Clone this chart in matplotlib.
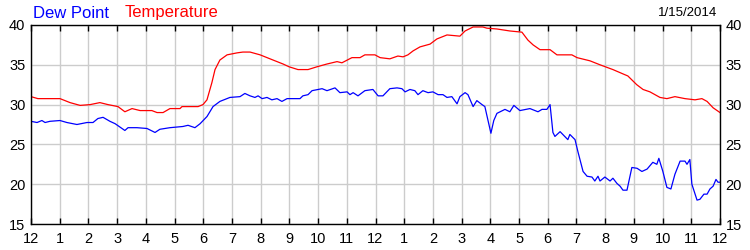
import numpy as np
import matplotlib
matplotlib.use("Agg")
from matplotlib import pyplot as plt

plt.rcParams['font.family'] = ['Liberation Sans', 'DejaVu Sans']

# hours since midnight, temperature
temp_hours = [0, 0.24, 0.66, 1.01, 1.36, 1.71, 2.06, 2.40, 2.68, 3.03, 3.27, 3.52, 3.80, 4.21, 4.39,
              4.60, 4.84, 5.19, 5.26, 5.82, 5.99, 6.13, 6.30, 6.41, 6.58, 6.83, 7.18, 7.38, 7.63,
              7.98, 8.43, 8.78, 8.99, 9.30, 9.65, 9.96, 10.31, 10.66, 10.83, 11.18, 11.46, 11.63,
              11.98, 12.16, 12.50, 12.78, 12.96, 13.13, 13.31, 13.55, 13.90, 14.14, 14.49, 14.94,
              15.12, 15.40, 15.74, 15.88, 16.23, 16.68, 17.10, 17.31, 17.49, 17.73, 18.08, 18.32,
              18.84, 19.02, 19.47, 19.82, 20.27, 20.69, 20.79, 21.10, 21.32, 21.56, 21.91, 22.15,
              22.43, 22.78, 23.13, 23.37, 23.55, 23.76, 24.0]
temp_vals = [31.0, 30.75, 30.75, 30.75, 30.25, 29.9, 30.0, 30.25, 30.0, 29.75, 29.1, 29.5, 29.25, 29.25, 29.0,
             29.0, 29.5, 29.5, 29.75, 29.75, 30.0, 30.6, 32.75, 34.4, 35.6, 36.25, 36.5, 36.6, 36.6,
             36.25, 35.6, 35.1, 34.75, 34.4, 34.4, 34.75, 35.1, 35.4, 35.25, 35.9, 35.9, 36.25,
             36.25, 35.9, 35.75, 36.1, 36.0, 36.25, 36.75, 37.25, 37.6, 38.25, 38.75, 38.6,
             39.25, 39.75, 39.75, 39.6, 39.5, 39.25, 39.1, 38.1, 37.5, 36.9, 36.9, 36.25,
             36.25, 35.9, 35.5, 35.0, 34.4, 33.75, 33.6, 32.5, 31.9, 31.6, 30.9, 30.75,
             31.0, 30.75, 30.6, 30.75, 30.4, 29.6, 29.0]

# hours since midnight, dew point
dew_hours = [0, 0.21, 0.38, 0.49, 0.66, 1.01, 1.25, 1.60, 1.95, 2.16, 2.33, 2.51, 2.75, 2.93, 3.27,
             3.38, 3.69, 4.04, 4.32, 4.49, 4.84, 5.29, 5.47, 5.71, 5.89, 6.13, 6.34, 6.58, 6.93,
             7.28, 7.45, 7.63, 7.80, 7.91, 8.05, 8.22, 8.39, 8.57, 8.74, 8.92, 9.37, 9.47, 9.65,
             9.79, 10.14, 10.31, 10.59, 10.76, 11.01, 11.11, 11.22, 11.39, 11.63, 11.91, 12.09,
             12.26, 12.50, 12.75, 12.92, 13.03, 13.20, 13.37, 13.48, 13.65, 13.83, 14.00, 14.18,
             14.35, 14.49, 14.66, 14.84, 14.94, 15.12, 15.22, 15.40, 15.53, 15.71, 15.81, 15.95,
             16.02, 16.12, 16.23, 16.34, 16.51, 16.68, 16.82, 17.03, 17.38, 17.66, 17.80, 17.97,
             18.08, 18.18, 18.25, 18.43, 18.70, 18.77, 18.95, 19.05, 19.23, 19.37, 19.54, 19.64,
             19.75, 19.82, 19.99, 20.17, 20.27, 20.41, 20.52, 20.62, 20.76, 20.79, 20.93, 21.11,
             21.28, 21.46, 21.66, 21.80, 21.87, 22.01, 22.15, 22.29, 22.43, 22.61, 22.78, 22.85,
             22.95, 23.02, 23.20, 23.30, 23.44, 23.55, 23.65, 23.76, 23.86, 23.93, 24.0]
dew_vals = [27.9, 27.75, 28.0, 27.75, 27.9, 28.0, 27.75, 27.5, 27.75, 27.75, 28.25, 28.4, 27.9, 27.6, 26.75,
            27.1, 27.1, 27.0, 26.5, 26.9, 27.1, 27.25, 27.4, 27.1, 27.6, 28.5, 29.75, 30.4, 30.9,
            31.0, 31.4, 31.1, 30.9, 31.1, 30.75, 30.9, 30.6, 30.75, 30.4, 30.75, 30.75, 31.1, 31.25,
            31.75, 32.0, 31.75, 32.1, 31.5, 31.6, 31.25, 31.5, 31.1, 31.75, 31.9, 31.1,
            31.1, 32.0, 32.1, 32.0, 31.6, 31.9, 31.75, 31.25, 31.75, 31.5, 31.6, 31.25,
            31.25, 30.9, 31.0, 30.1, 31.0, 31.5, 31.25, 29.75, 30.5, 30.0, 29.75, 27.5,
            26.4, 28.0, 28.9, 29.1, 29.4, 29.1, 29.9, 29.25, 29.5, 29.1, 29.4, 29.4,
            30.0, 26.5, 26.0, 26.6, 25.6, 26.25, 25.6, 24.1, 21.6, 21.0, 20.9, 20.4,
            21.0, 20.4, 20.9, 20.4, 20.75, 20.1, 19.75, 19.25, 19.25, 19.75, 22.1, 22.0,
            21.6, 21.9, 22.75, 22.5, 23.25, 21.6, 19.6, 19.4, 21.25, 22.9, 22.9, 22.5,
            23.1, 20.0, 18.0, 18.1, 18.75, 18.75, 19.4, 19.75, 20.6, 20.25, 20.25]

hour_labels = ['12', '1', '2', '3', '4', '5', '6', '7', '8', '9', '10', '11',
               '12', '1', '2', '3', '4', '5', '6', '7', '8', '9', '10', '11', '12']
y_ticks = [15, 20, 25, 30, 35, 40]

fig = plt.figure(figsize=(7.5, 2.5), dpi=100)
ax = fig.add_axes([31/750, 26/250, 689/750, 199/250])

ax.plot(dew_hours, dew_vals, color='#0000ff', lw=0.9)
ax.plot(temp_hours, temp_vals, color='#ff0000', lw=0.9)

ax.set_xlim(0, 24)
ax.set_ylim(15, 40)
ax.set_xticks(range(25))
ax.set_xticklabels(hour_labels)
ax.set_yticks(y_ticks)
ax.grid(True, color='#cccccc', lw=1)
ax.set_axisbelow(True)
ax.tick_params(axis='x', direction='in', length=4, width=1, top=True, labelsize=10.5, pad=6)
ax.tick_params(axis='y', length=0, labelsize=10.5, right=True, labelright=True, pad=4)
for s in ax.spines.values():
    s.set_linewidth(1)

fig.text(33/750, 1 - 13/250, 'Dew Point', color='#0000ff', fontsize=12, va='center')
fig.text(125/750, 1 - 13/250, 'Temperature', color='#ff0000', fontsize=12, va='center')
fig.text(717/750, 1 - 13/250, '1/15/2014', color='black', fontsize=9.5, va='center', ha='right')

fig.savefig('out.png', dpi=100)
